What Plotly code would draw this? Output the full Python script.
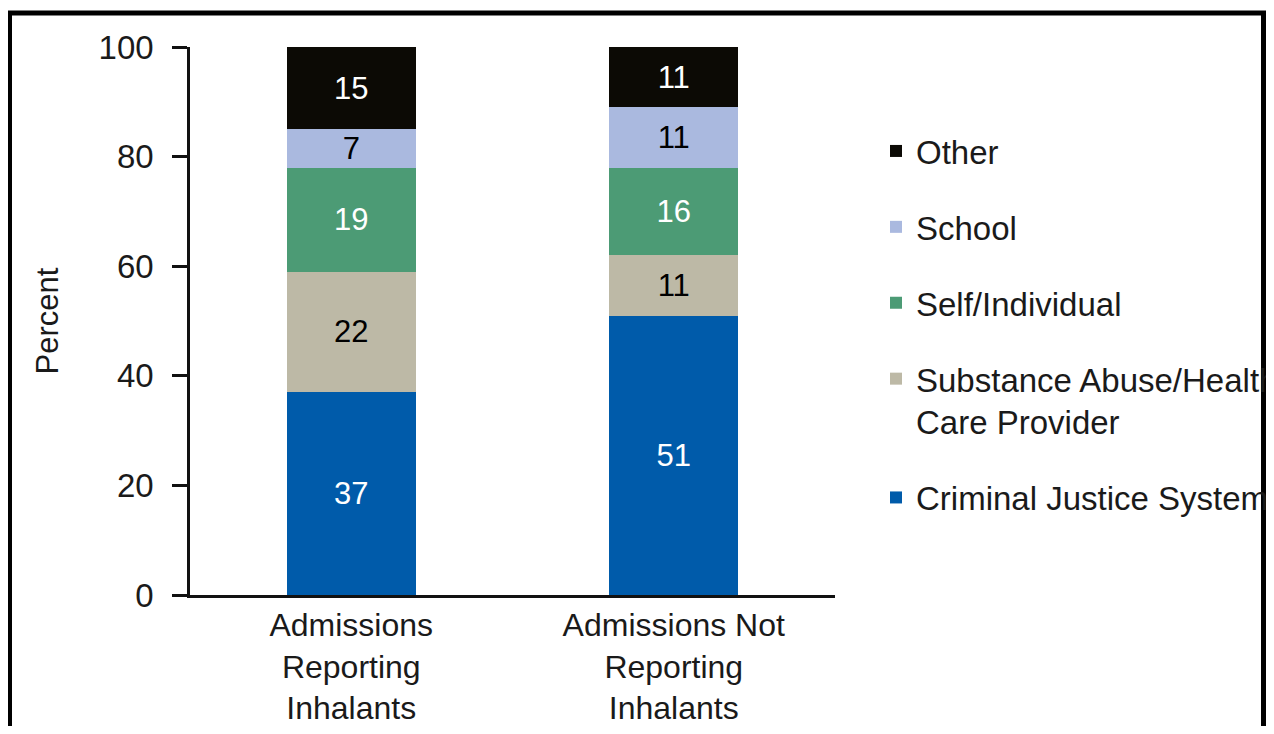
import plotly.graph_objects as go

categories = ["Admissions<br>Reporting<br>Inhalants", "Admissions Not<br>Reporting<br>Inhalants"]
series_names = ["Criminal Justice System", "Substance Abuse/Health<br>Care Provider",
                "Self/Individual", "School", "Other"]
criminal_justice = [37, 51]
substance_abuse = [22, 11]
self_individual = [19, 16]
school = [7, 11]
other = [15, 11]
series_values = [criminal_justice, substance_abuse, self_individual, school, other]
legend_ranks = [5, 4, 3, 2, 1]
colors = ["#005BAA", "#BDB9A6", "#4C9B75", "#AAB9DF", "#0C0A05"]
text_colors = ["white", "black", "white", "black", "white"]
y_ticks = [0, 20, 40, 60, 80, 100]

FONT = "Liberation Sans, Arial, Helvetica, sans-serif"
FS = 31

fig = go.Figure()
for name, vals, col, tcol, rk in zip(series_names, series_values, colors, text_colors, legend_ranks):
    fig.add_trace(go.Bar(
        x=categories, y=vals, name=name, legendgroup=name, legendrank=rk,
        marker=dict(color=col, line=dict(width=0)),
        text=[str(v) for v in vals], textposition="inside",
        insidetextanchor="middle", textangle=0,
        textfont=dict(color=tcol, size=FS, family=FONT),
    ))

# page has an 8px body margin on every side: keep the figure inside the viewport
OFF = 8
W, H = 1274 - 2 * OFF, 734 - 2 * OFF
plot_left, plot_right, plot_top, plot_bottom = 190, 835, 47, 595  # page px
L = plot_left - OFF
R = W - (plot_right - OFF)
T = plot_top - OFF
B = H - (plot_bottom - OFF)
pw, ph = W - L - R, H - T - B


def px_x(p):
    return (p - OFF - L) / pw


def px_y(p):
    return (H - B - (p - OFF)) / ph


fig.update_layout(
    width=W, height=H,
    margin=dict(l=L, r=R, t=T, b=B, autoexpand=False),
    barmode="stack", bargap=0.6,
    plot_bgcolor="white", paper_bgcolor="white",
    font=dict(family=FONT, size=FS, color="#1a1a1a"),
    uniformtext=dict(minsize=FS - 2, mode="show"),
    legend=dict(
        x=px_x(876), xanchor="left", y=px_y(123), yanchor="top",
        traceorder="grouped", tracegroupgap=30, valign="top",
        font=dict(size=33, family=FONT, color="#1a1a1a"),
        bgcolor="rgba(0,0,0,0)",
    ),
    xaxis=dict(
        showline=True, linecolor="#111111", linewidth=2.5,
        ticks="", showgrid=False, tickfont=dict(size=32),
        range=[-0.5, 1.5], fixedrange=True,
    ),
    yaxis=dict(
        range=[0, 100], tickvals=y_ticks, showline=True, linecolor="#111111",
        linewidth=2.5, ticks="outside", ticklen=15, tickwidth=2.5,
        tickcolor="#111111", showgrid=False, zeroline=False,
        tickfont=dict(size=33), ticklabelstandoff=12,
        title=dict(text="Percent", standoff=31, font=dict(size=FS)),
    ),
    shapes=[dict(
        type="rect", xref="paper", yref="paper",
        x0=px_x(9.5), x1=px_x(1263.5), y0=px_y(780), y1=px_y(13),
        line=dict(color="black", width=5), fillcolor="rgba(0,0,0,0)", layer="above",
    )],
)

fig.write_html("out.html")
